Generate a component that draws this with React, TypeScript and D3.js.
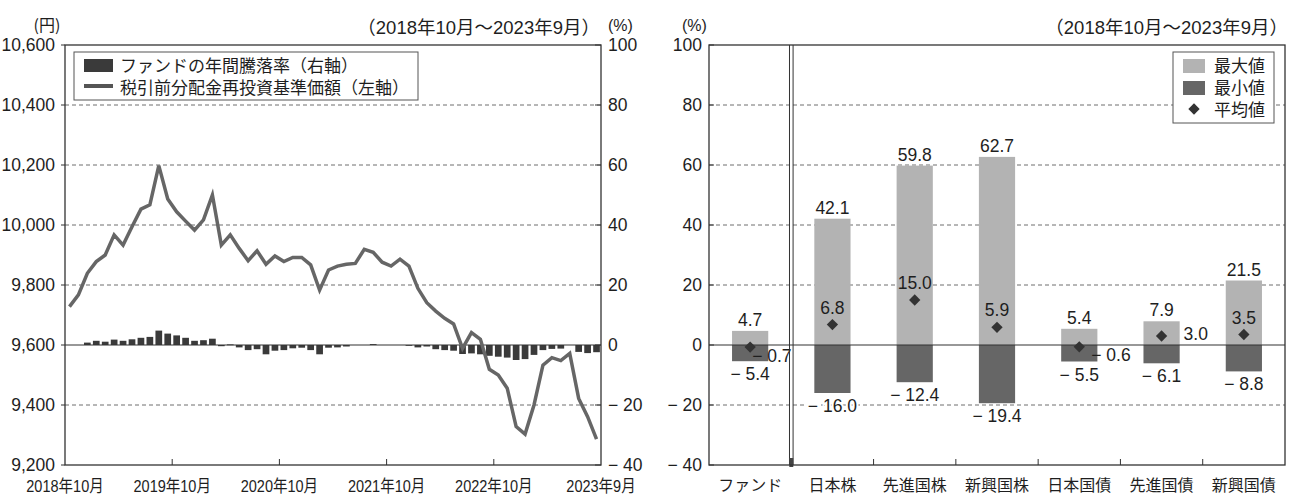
import { useEffect } from "react";
import * as d3 from "d3";

// Left chart: monthly NAV (yen, dividends reinvested) and 1-year return (%)
const months = d3.timeMonth.range(new Date(2018, 9, 1), new Date(2023, 9, 1));
const navValues = [
  9728, 9767, 9839, 9878, 9900, 9967, 9933, 9994, 10053, 10067, 10198, 10087,
  10044, 10013, 9983, 10017, 10100, 9933, 9967, 9922, 9881, 9914, 9869, 9897,
  9878, 9892, 9892, 9867, 9783, 9850, 9863, 9869, 9872, 9919, 9909, 9876,
  9863, 9886, 9863, 9789, 9741, 9713, 9689, 9670, 9589, 9641, 9619, 9519,
  9500, 9456, 9328, 9303, 9400, 9533, 9558, 9548, 9572, 9422, 9361, 9286,
];
const annualReturns: (number | null)[] = [
  null, null, 0.8, 1.4, 1.1, 1.8, 1.4, 1.9, 2.4, 2.7, 4.8, 3.8,
  3.2, 2.4, 1.4, 1.6, 2.1, -0.4, 0.2, -0.8, -1.7, -1.4, -3.1, -1.9,
  -1.7, -1.1, -0.9, -1.7, -3.1, -0.9, -0.8, -0.5, 0, 0, 0.3, 0,
  0, 0, -0.1, -0.8, -0.5, -1.4, -1.7, -1.9, -3.0, -2.8, -3.1, -3.6,
  -3.9, -4.2, -5.0, -4.7, -3.3, -1.7, -1.3, -1.2, null, -2.3, -2.7, -2.4,
];
const xTickLabels = ["2018年10月", "2019年10月", "2020年10月", "2021年10月", "2022年10月", "2023年9月"];
const navTicks = [9200, 9400, 9600, 9800, 10000, 10200, 10400, 10600];
const pctTicks = [-40, -20, 0, 20, 40, 60, 80, 100];

// Right chart: comparison with other asset classes
const categories = ["ファンド", "日本株", "先進国株", "新興国株", "日本国債", "先進国債", "新興国債"];
const maxValues = [4.7, 42.1, 59.8, 62.7, 5.4, 7.9, 21.5];
const minValues = [-5.4, -16.0, -12.4, -19.4, -5.5, -6.1, -8.8];
const meanValues = [-0.7, 6.8, 15.0, 5.9, -0.6, 3.0, 3.5];

const NUM_FONT = "'Liberation Sans Narrow', 'Arial Narrow', 'Liberation Sans', 'Noto Sans CJK JP', sans-serif";
const JP_FONT = "'Noto Sans CJK JP', sans-serif";
const TITLE_FONT = "'Liberation Sans', 'Noto Sans CJK JP', sans-serif";

const GRID = "#6e6e6e";
const AXIS = "#333";
const TEXT = "#1e1e1e";

const fmtPct = (v: number) => (v < 0 ? "\u2212 " + d3.format(".1f")(-v) : d3.format(".1f")(v));
const fmtTick = (v: number) => (v < 0 ? "\u2212 " + Math.abs(v) : String(v));

// where the mean label sits relative to its diamond
const meanLabelPos: Record<string, { dx: number; dy: number; anchor: string }> = {
  ファンド: { dx: 2, dy: 15, anchor: "start" },
  日本国債: { dx: 12, dy: 14, anchor: "start" },
  先進国債: { dx: 22, dy: 4, anchor: "start" },
};

function LeftChart() {
  const left = 65, right = 601, top = 45, bottom = 465;
  const yNav = d3.scaleLinear().domain([9200, 10600]).range([bottom, top]);
  const yPct = d3.scaleLinear().domain([-40, 100]).range([bottom, top]);
  const xIdx = d3.scaleLinear().domain([0, months.length]).range([left, right]);
  const xBand = d3
    .scaleBand<number>()
    .domain(d3.range(months.length))
    .range([left, right])
    .paddingInner(0.25)
    .paddingOuter(0.125);

  const line = d3
    .line<number>()
    .x((_, i) => (xBand(i) as number) + xBand.bandwidth() / 2)
    .y((d) => yNav(d));

  return (
    <g>
      {/* gridlines */}
      {navTicks
        .filter((t) => t !== 9200 && t !== 10600 && t !== 9600)
        .map((t) => (
          <line key={t} x1={left} x2={right} y1={yNav(t)} y2={yNav(t)} stroke={GRID} strokeWidth={1} strokeDasharray="4,3" />
        ))}
      {/* bars */}
      {annualReturns.map((v, i) =>
        v === null || v === 0 ? null : (
          <rect
            key={i}
            x={xBand(i)}
            width={xBand.bandwidth()}
            y={Math.min(yPct(v), yPct(0))}
            height={Math.max(Math.abs(yPct(v) - yPct(0)), 0.8)}
            fill="#3a3a3a"
          />
        )
      )}
      <line x1={left} x2={right} y1={yPct(0)} y2={yPct(0)} stroke={AXIS} strokeWidth={1.2} />
      <path d={line(navValues) || ""} fill="none" stroke="#666" strokeWidth={3.5} />
      {/* frame */}
      <rect x={left} y={top} width={right - left} height={bottom - top} fill="none" stroke={AXIS} strokeWidth={1.3} />
      {/* left axis */}
      {navTicks.map((t) => (
        <g key={t}>
          <line x1={left - 4} x2={left} y1={yNav(t)} y2={yNav(t)} stroke={AXIS} />
          <text x={55} y={yNav(t)} dy="0.36em" textAnchor="end" fontSize={17.5} fontFamily={NUM_FONT} fill={TEXT}>
            {d3.format(",")(t)}
          </text>
        </g>
      ))}
      {/* right axis */}
      {pctTicks.map((t) => (
        <g key={t}>
          <line x1={right - 6} x2={right} y1={yPct(t)} y2={yPct(t)} stroke={AXIS} />
          <text x={608} y={yPct(t)} dy="0.36em" textAnchor="start" fontSize={17.5} fontFamily={NUM_FONT} fill={TEXT}>
            {fmtTick(t)}
          </text>
        </g>
      ))}
      {/* x axis */}
      {xTickLabels.map((lab, i) => {
        const x = xIdx(Math.min(i * 12, months.length));
        return (
          <g key={lab}>
            {i > 0 && i < xTickLabels.length - 1 && (
              <line x1={x} x2={x} y1={bottom} y2={bottom - 6} stroke={AXIS} />
            )}
            <text
              transform={`translate(${x},492) scale(0.88,1)`}
              textAnchor="middle"
              fontSize={16.5}
              fontFamily={NUM_FONT}
              fill={TEXT}
            >
              {lab}
            </text>
          </g>
        );
      })}
      {/* titles */}
      <text x={47} y={31} textAnchor="middle" fontSize={16} fontFamily={JP_FONT} fill={TEXT}>(円)</text>
      <text x={600} y={34} textAnchor="end" fontSize={18.5} fontFamily={TITLE_FONT} fill={TEXT}>（2018年10月～2023年9月）</text>
      <text x={608} y={31} fontSize={16} fontFamily={NUM_FONT} fill={TEXT}>(%)</text>
      {/* legend */}
      <rect x={74} y={52} width={344} height={48} fill="#fff" stroke="#555" strokeWidth={1} />
      <rect x={84} y={59} width={29} height={13} fill="#3a3a3a" />
      <text x={120} y={72} fontSize={17} fontFamily={JP_FONT} fill={TEXT}>ファンドの年間騰落率（右軸）</text>
      <line x1={84} x2={113} y1={86} y2={86} stroke="#555" strokeWidth={4} />
      <text x={120} y={94} fontSize={17} fontFamily={JP_FONT} fill={TEXT}>税引前分配金再投資基準価額（左軸）</text>
    </g>
  );
}

function RightChart() {
  const left = 709, right = 1285, top = 45, bottom = 465;
  const y = d3.scaleLinear().domain([-40, 100]).range([bottom, top]);
  const x = d3.scaleBand<string>().domain(categories).range([left, right]).paddingInner(0.56).paddingOuter(0.28);
  const step = x.step();
  const cx = (c: string) => (x(c) as number) + x.bandwidth() / 2;
  const sepX = left + step;

  return (
    <g>
      {pctTicks
        .filter((t) => t !== -40 && t !== 100 && t !== 0)
        .map((t) => (
          <line key={t} x1={left} x2={right} y1={y(t)} y2={y(t)} stroke={GRID} strokeWidth={1} strokeDasharray="4,3" />
        ))}
      {categories.map((c, i) => (
        <g key={c}>
          <rect x={x(c)} width={x.bandwidth()} y={y(maxValues[i])} height={y(0) - y(maxValues[i])} fill="#b3b3b3" />
          <rect x={x(c)} width={x.bandwidth()} y={y(0)} height={y(minValues[i]) - y(0)} fill="#666" />
        </g>
      ))}
      <line x1={left} x2={right} y1={y(0)} y2={y(0)} stroke={AXIS} strokeWidth={1.2} />
      {categories.map((c, i) => {
        const pos = meanLabelPos[c] || { dx: 0, dy: -11, anchor: "middle" };
        return (
          <g key={c}>
            <rect
              x={-4}
              y={-4}
              width={8}
              height={8}
              fill="#333"
              transform={`translate(${cx(c)},${y(meanValues[i])}) rotate(45)`}
            />
            <text
              x={cx(c)}
              y={y(maxValues[i]) - 5}
              textAnchor="middle"
              fontSize={17.5}
              fontFamily={NUM_FONT}
              fill={TEXT}
              stroke="#fff"
              strokeWidth={4}
              paintOrder="stroke"
            >
              {fmtPct(maxValues[i])}
            </text>
            <text
              x={cx(c)}
              y={y(minValues[i]) + 19}
              textAnchor="middle"
              fontSize={17.5}
              fontFamily={NUM_FONT}
              fill={TEXT}
              stroke="#fff"
              strokeWidth={4}
              paintOrder="stroke"
            >
              {fmtPct(minValues[i])}
            </text>
            <text
              x={cx(c) + pos.dx}
              y={y(meanValues[i]) + pos.dy}
              textAnchor={pos.anchor}
              fontSize={17.5}
              fontFamily={NUM_FONT}
              fill={TEXT}
            >
              {fmtPct(meanValues[i])}
            </text>
            <text x={cx(c)} y={491} textAnchor="middle" fontSize={16} fontFamily={JP_FONT} fill={TEXT}>
              {c}
            </text>
          </g>
        );
      })}
      {/* category ticks (skip the separator) */}
      {categories.slice(2).map((c) => {
        const tx = (x(c) as number) - (step - x.bandwidth()) / 2;
        return <line key={c} x1={tx} x2={tx} y1={bottom} y2={bottom - 6} stroke={AXIS} />;
      })}
      {/* double separator line */}
      <line x1={sepX - 1.8} x2={sepX - 1.8} y1={top} y2={bottom} stroke={AXIS} strokeWidth={1} />
      <line x1={sepX + 1.8} x2={sepX + 1.8} y1={top} y2={bottom} stroke={AXIS} strokeWidth={1} />
      <rect x={sepX - 2} y={bottom - 7} width={4} height={9} fill="#444" />
      <rect x={left} y={top} width={right - left} height={bottom - top} fill="none" stroke={AXIS} strokeWidth={1.3} />
      {pctTicks.map((t) => (
        <g key={t}>
          <line x1={left} x2={left + 5} y1={y(t)} y2={y(t)} stroke={AXIS} />
          <text x={702} y={y(t)} dy="0.36em" textAnchor="end" fontSize={17.5} fontFamily={NUM_FONT} fill={TEXT}>
            {fmtTick(t)}
          </text>
        </g>
      ))}
      <text x={682} y={31} fontSize={16} fontFamily={NUM_FONT} fill={TEXT}>(%)</text>
      <text x={1288} y={34} textAnchor="end" fontSize={18.5} fontFamily={TITLE_FONT} fill={TEXT}>（2018年10月～2023年9月）</text>
      {/* legend */}
      <rect x={1173} y={52} width={101} height={71} fill="#fff" stroke="#555" strokeWidth={1} />
      <rect x={1183} y={59} width={22} height={14} fill="#b3b3b3" />
      <text x={1214} y={72} fontSize={17} fontFamily={JP_FONT} fill={TEXT}>最大値</text>
      <rect x={1183} y={81} width={22} height={14} fill="#666" />
      <text x={1214} y={94} fontSize={17} fontFamily={JP_FONT} fill={TEXT}>最小値</text>
      <rect x={-4} y={-4} width={8} height={8} fill="#333" transform="translate(1194,109) rotate(45)" />
      <text x={1214} y={116} fontSize={17} fontFamily={JP_FONT} fill={TEXT}>平均値</text>
    </g>
  );
}

export default function App() {
  useEffect(() => {
    document.body.style.margin = "0";
  }, []);
  return (
    <svg width={1291} height={495} style={{ display: "block", background: "#fff" }}>
      <LeftChart />
      <RightChart />
    </svg>
  );
}
